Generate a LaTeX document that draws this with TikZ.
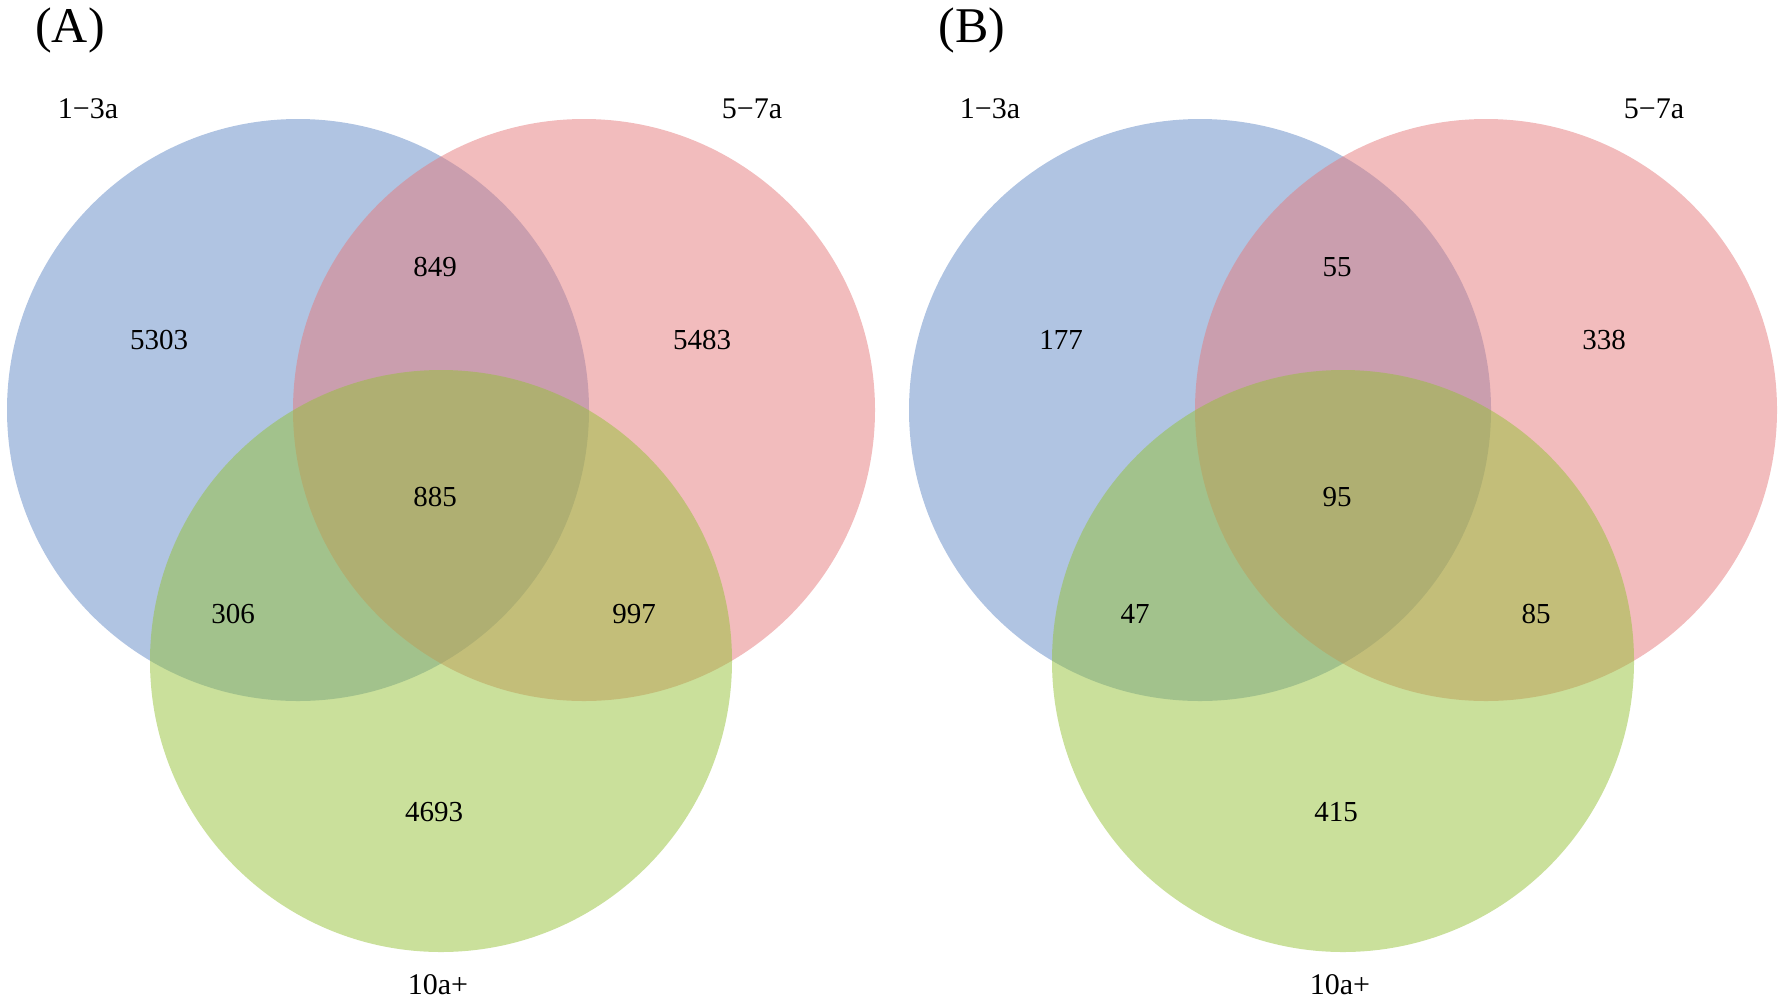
\documentclass[tikz,border=0pt]{standalone}
\usepackage{fontspec}
\setmainfont{Liberation Serif}
\definecolor{blueset}{RGB}{97, 137, 197}
\definecolor{redset}{RGB}{229, 121, 123}
\definecolor{greenset}{RGB}{149, 193, 55}
\begin{document}
\begin{tikzpicture}[x=1pt, y=-1pt,
    setfill/.style={fill=#1, fill opacity=0.5},
    count/.style={font=\fontsize{29}{33}\selectfont},
    setname/.style={font=\fontsize{30}{34}\selectfont},
    panel/.style={font=\fontsize{50}{56}\selectfont}]
      \useasboundingbox (0, 0) rectangle (1784, 1002);
      \def\R{291}
      \foreach \dx/\lab/\a/\b/\c/\d/\e/\f/\g in
          {0/A/5303/849/5483/885/306/997/4693,
           902/B/177/55/338/95/47/85/415} {
        \begin{scope}[xshift=\dx]
          \fill[setfill=blueset]  (298, 410) circle (\R);
          \fill[setfill=redset]   (584, 410) circle (\R);
          \fill[setfill=greenset] (441, 661) circle (\R);
          \node[panel]   (title-\lab) at (70, 30)   {(\lab)};
          \node[setname] (young-\lab) at (88, 109)  {1−3a};
          \node[setname] (mid-\lab)   at (752, 109) {5−7a};
          \node[setname] (old-\lab)   at (438, 985) {10a+};
          \node[count] (only1-\lab) at (159, 340) {\a};
          \node[count] (c12-\lab)   at (435, 267) {\b};
          \node[count] (only2-\lab) at (702, 340) {\c};
          \node[count] (c123-\lab)  at (435, 497) {\d};
          \node[count] (c13-\lab)   at (233, 614) {\e};
          \node[count] (c23-\lab)   at (634, 614) {\f};
          \node[count] (only3-\lab) at (434, 812) {\g};
        \end{scope}
      }
    \end{tikzpicture}
\end{document}
